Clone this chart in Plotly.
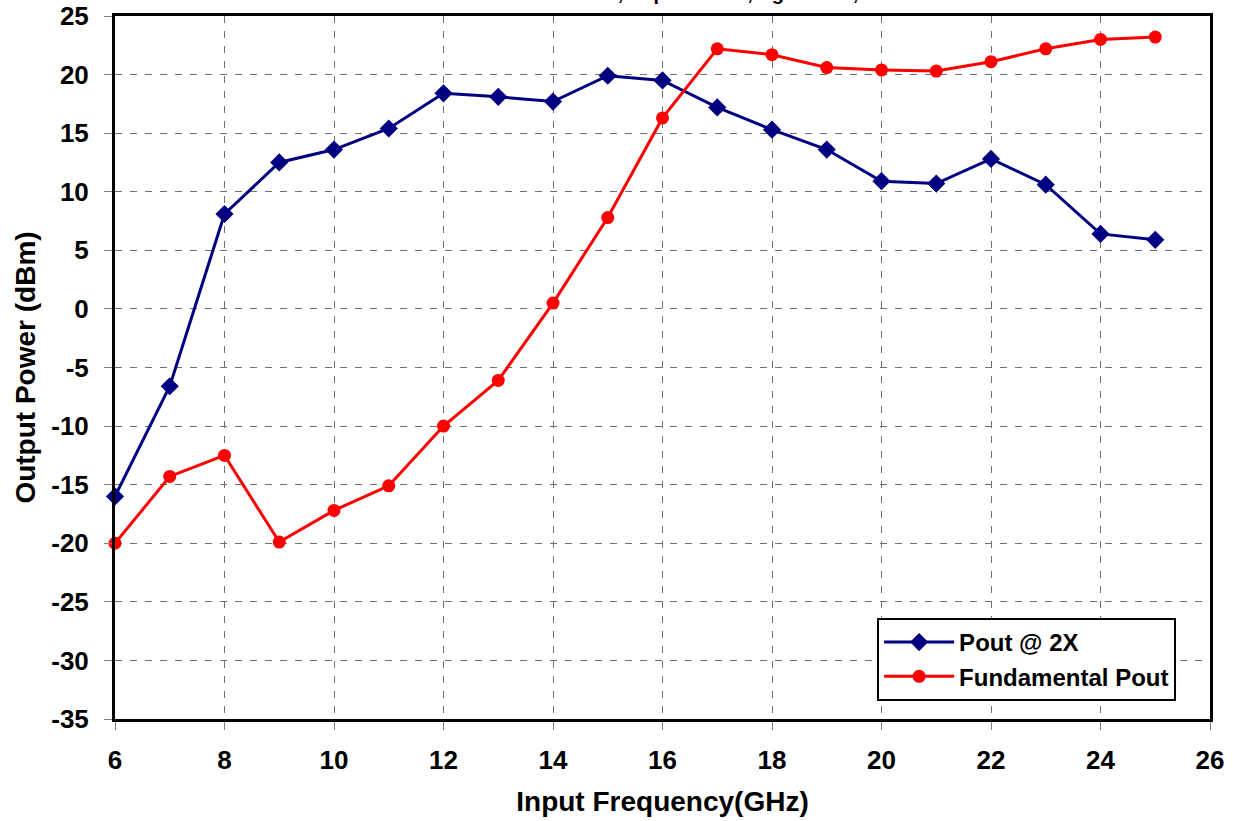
import plotly.graph_objects as go

freq = [6, 7, 8, 9, 10, 11, 12, 13, 14, 15, 16, 17, 18, 19, 20, 21, 22, 23, 24, 25]
pout_2x = [-16.0, -6.6, 8.1, 12.5, 13.6, 15.4, 18.4, 18.1, 17.7, 19.9, 19.5, 17.2,
           15.3, 13.6, 10.9, 10.7, 12.8, 10.6, 6.4, 5.9]
fund_pout = [-20.0, -14.3, -12.5, -19.9, -17.2, -15.1, -10.0, -6.1, 0.5, 7.8, 16.3, 22.2,
             21.7, 20.6, 20.4, 20.3, 21.1, 22.2, 23.0, 23.2]
x_ticks = list(range(6, 27, 2))
y_ticks = list(range(-35, 26, 5))
y_tick_labels = [str(v) for v in y_ticks]

FONT = "Liberation Sans, Arial, sans-serif"

fig = go.Figure()
fig.add_trace(go.Scatter(
    x=freq, y=pout_2x, name="Pout @ 2X", mode="lines+markers",
    line=dict(color="#000080", width=3),
    marker=dict(symbol="diamond", size=14, color="#000080"),
    cliponaxis=False,
))
fig.add_trace(go.Scatter(
    x=freq, y=fund_pout, name="Fundamental Pout", mode="lines+markers",
    line=dict(color="#FF0000", width=3),
    marker=dict(symbol="circle", size=13, color="#FF0000"),
    cliponaxis=False,
))

axis_common = dict(
    showline=True, linecolor="black", linewidth=3, mirror=True,
    showgrid=True, gridcolor="#707070", gridwidth=1, griddash="7px,8px",
    zeroline=False, ticks="outside", ticklen=8, tickcolor="#808080", tickwidth=1,
    automargin=False,
    tickfont=dict(family=FONT, size=26, color="black", weight="bold"),
)

fig.update_xaxes(
    range=[6, 26], tickvals=x_ticks, ticklabelstandoff=8,
    title=dict(text="Input Frequency(GHz)", standoff=18,
               font=dict(family=FONT, size=28, color="black", weight="bold")),
    **axis_common,
)
fig.update_yaxes(
    range=[-35, 25], tickvals=y_ticks, ticktext=y_tick_labels, ticklabelstandoff=10,
    title=dict(text="Output Power (dBm)", standoff=8,
               font=dict(family=FONT, size=28, color="black", weight="bold")),
    **axis_common,
)

fig.update_layout(
    width=1233, height=821,
    margin=dict(l=115, r=23, t=16, b=102),
    paper_bgcolor="white", plot_bgcolor="white",
    showlegend=True,
    legend=dict(
        x=0.696, y=0.1437, xanchor="left", yanchor="top",
        bgcolor="white", bordercolor="black", borderwidth=2,
        font=dict(family=FONT, size=24, color="black", weight="bold"),
        itemwidth=70, entrywidth=300, entrywidthmode="pixels",
    ),
    font=dict(family=FONT, color="black"),
)

fig.add_annotation(
    text="Test Conditions: Vd = 5V, Idq = 120mA, Vg = -0.6V, Pin = 18dBm",
    xref="paper", yref="paper", x=0.52, y=1, xanchor="center", yanchor="bottom",
    yshift=10, showarrow=False,
    font=dict(family=FONT, size=20, color="black", weight="bold"),
)

fig.write_html(
    "out.html",
    config={"displayModeBar": False},
    post_script="document.body.style.margin='0';document.body.style.overflow='hidden';",
)
